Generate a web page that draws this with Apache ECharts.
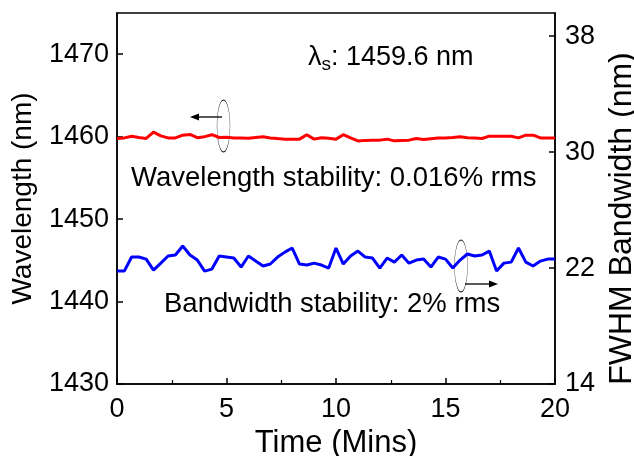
<!DOCTYPE html>
<html>
<head>
<meta charset="utf-8">
<script src="https://cdn.jsdelivr.net/npm/echarts@6/dist/echarts.min.js"></script>
<style>
html,body{margin:0;padding:0;background:#fff;}
#chart{width:634px;height:456px;}
</style>
</head>
<body>
<div id="chart"></div>
<script>
// time axis: samples every 1/3 minute, 0..20 min
const timeMins = [];
for (let i = 0; i <= 60; i++) timeMins.push(+(i / 3).toFixed(3));

const wavelengthNm = [
 1459.78,1459.85,1460.06,1459.90,1459.78,1460.55,1460.10,1459.85,1459.85,1460.18,
 1460.27,1459.88,1460.00,1460.24,1459.90,1459.92,1459.85,1459.84,1459.82,1459.90,
 1459.98,1459.85,1459.77,1459.70,1459.70,1459.70,1460.24,1459.70,1459.88,1459.82,
 1459.70,1460.24,1459.85,1459.48,1459.55,1459.58,1459.58,1459.70,1459.49,1459.54,
 1459.58,1459.78,1459.66,1459.76,1459.85,1459.85,1459.90,1459.98,1459.88,1459.84,
 1459.78,1460.06,1460.06,1460.06,1460.06,1459.85,1460.18,1460.18,1459.85,1459.85,
 1459.85
];

const bandwidthNm = [
 21.79,21.79,22.76,22.76,22.62,21.86,22.34,22.83,22.90,23.52,
 22.90,22.55,21.79,21.93,22.83,22.76,22.69,22.07,22.83,22.48,
 22.14,22.28,22.76,23.10,23.38,22.28,22.21,22.34,22.21,22.00,
 23.38,22.28,22.83,23.17,22.76,22.69,22.00,22.69,22.41,22.90,
 22.34,22.55,22.62,22.07,22.76,22.62,22.00,22.55,22.97,22.83,
 22.90,23.17,21.79,22.34,22.41,23.38,22.41,22.14,22.48,22.62,
 22.62
];

const xTicks = [0, 5, 10, 15, 20];
const leftTicks = [1430, 1440, 1450, 1460, 1470];
const rightTicks = [14, 22, 30, 38];

const FONT = 'Liberation Sans, Arial, sans-serif';

const chart = echarts.init(document.getElementById('chart'), null, {renderer: 'canvas'});

const axisLineStyle = {color: '#000', width: 1.5};

const option = {
  animation: false,
  backgroundColor: '#fff',
  grid: {left: 117, right: 79, top: 13, bottom: 72, show: true, borderColor: '#000', borderWidth: 1.5,
         containLabel: false, outerBoundsMode: 'none'},
  xAxis: {
    type: 'value', min: 0, max: 20, interval: 5,
    name: 'Time (Mins)', nameLocation: 'middle', nameGap: 36,
    nameTextStyle: {fontFamily: FONT, fontSize: 31, color: '#000'},
    axisLine: {lineStyle: axisLineStyle},
    axisTick: {inside: true, length: 6, lineStyle: axisLineStyle},
    minorTick: {show: true, splitNumber: 2, length: 4, lineStyle: {color: '#000', width: 1.2}},
    axisLabel: {fontFamily: FONT, fontSize: 27, color: '#000', margin: 12,
      formatter: v => xTicks.includes(v) ? String(v) : ''},
    splitLine: {show: false}
  },
  yAxis: [{
    type: 'value', min: 1430, max: 1475, interval: 10, position: 'left',
    name: 'Wavelength (nm)', nameLocation: 'middle', nameGap: 80, nameRotate: 90,
    nameTextStyle: {fontFamily: FONT, fontSize: 28, color: '#000'},
    axisLine: {show: true, lineStyle: axisLineStyle},
    axisTick: {inside: true, length: 6, lineStyle: axisLineStyle},
    axisLabel: {fontFamily: FONT, fontSize: 27, color: '#000', margin: 8, showMaxLabel: false,
      formatter: v => leftTicks.includes(v) ? String(v) : ''},
    splitLine: {show: false}
  }, {
    type: 'value', min: 14, max: 39.6, interval: 8, position: 'right',
    name: 'FWHM Bandwidth (nm)', nameLocation: 'middle', nameGap: 48, nameRotate: 90,
    nameTextStyle: {fontFamily: FONT, fontSize: 32, color: '#000', padding: [0, 40, 0, 0]},
    axisLine: {show: true, lineStyle: axisLineStyle},
    axisTick: {inside: true, length: 6, lineStyle: axisLineStyle},
    axisLabel: {fontFamily: FONT, fontSize: 27, color: '#000', margin: 10, showMaxLabel: false,
      formatter: v => rightTicks.includes(v) ? String(v) : ''},
    splitLine: {show: false}
  }],
  series: [{
    type: 'line', yAxisIndex: 0, showSymbol: false,
    data: timeMins.map((t, i) => [t, wavelengthNm[i]]),
    lineStyle: {color: '#ff0000', width: 3}, itemStyle: {color: '#ff0000'}
  }, {
    type: 'line', yAxisIndex: 1, showSymbol: false,
    data: timeMins.map((t, i) => [t, bandwidthNm[i]]),
    lineStyle: {color: '#0000ff', width: 3}, itemStyle: {color: '#0000ff'}
  }],
  graphic: [
    {type: 'text', left: 308, top: 44, style: {
      text: '{l|λ}{s|s}{n|: 1459.6 nm}',
      rich: {
        l: {fontFamily: FONT, fontSize: 27, fill: '#000'},
        s: {fontFamily: FONT, fontSize: 19, fill: '#000', padding: [14, 0, 0, 0]},
        n: {fontFamily: FONT, fontSize: 27, fill: '#000'}
      }}},
    {type: 'text', left: 131, top: 164, style: {text: 'Wavelength stability: 0.016% rms', fontFamily: FONT, fontSize: 27.5, fill: '#000'}},
    {type: 'text', left: 164, top: 290, style: {text: 'Bandwidth stability: 2% rms', fontFamily: FONT, fontSize: 27.5, fill: '#000'}},
    {type: 'circle', x: 223.5, y: 126, scaleX: 0.25, shape: {cx: 0, cy: 0, r: 26},
      style: {fill: 'none', stroke: '#000', lineWidth: 1.2, strokeNoScale: true}},
    {type: 'line', shape: {x1: 222, y1: 117, x2: 196, y2: 117}, style: {stroke: '#000', lineWidth: 1.3}},
    {type: 'polygon', shape: {points: [[190, 117], [199, 113.5], [199, 120.5]]}, style: {fill: '#000'}},
    {type: 'circle', x: 461, y: 266, scaleX: 0.25, shape: {cx: 0, cy: 0, r: 26},
      style: {fill: 'none', stroke: '#000', lineWidth: 1.2, strokeNoScale: true}},
    {type: 'line', shape: {x1: 465, y1: 284, x2: 492, y2: 284}, style: {stroke: '#000', lineWidth: 1.3}},
    {type: 'polygon', shape: {points: [[498, 284], [489, 280.5], [489, 287.5]]}, style: {fill: '#000'}}
  ]
};
chart.setOption(option);
</script>
</body>
</html>
